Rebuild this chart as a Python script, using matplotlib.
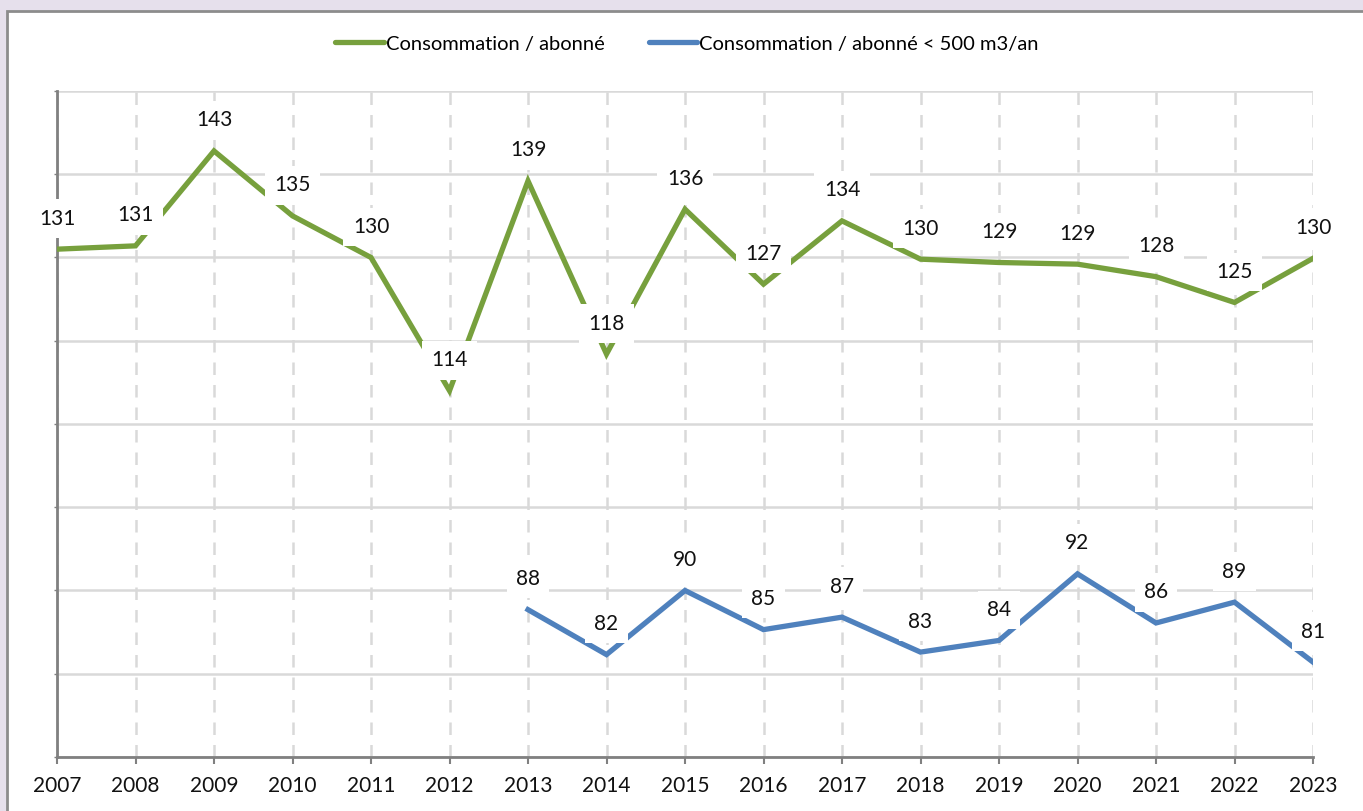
import matplotlib.pyplot as plt
from matplotlib.patches import Rectangle
from matplotlib.lines import Line2D

plt.rcParams['font.family'] = ['Lato', 'DejaVu Sans']

years = list(range(2007, 2024))
conso = [131.0, 131.4, 142.8, 135.0, 130.0, 114.0, 139.2, 118.4, 135.8, 126.8,
         134.4, 129.8, 129.4, 129.2, 127.7, 124.6, 129.9]
years_500 = list(range(2013, 2024))
conso_500 = [87.7, 82.3, 90.0, 85.3, 86.8, 82.6, 84.0, 92.0, 86.1, 88.6, 81.4]

green = '#77A03D'
blue = '#4F81BD'

fig = plt.figure(figsize=(13.63, 8.11), dpi=100)
fig.patch.set_facecolor('#E6E0EC')
fig.patches.append(Rectangle((7 / 1363, -0.05), 1.2, 1.05 - 11 / 811,
                             transform=fig.transFigure, facecolor='white',
                             edgecolor='#8C8C8C', linewidth=2, zorder=-5))

ax = fig.add_axes([57 / 1363, 54 / 811, 1256 / 1363, 666 / 811])
ax.set_facecolor('none')
ax.set_zorder(2)

ax.plot(years, conso, color=green, lw=3.8, solid_joinstyle='miter', zorder=3,
        label='Consommation / abonné')
ax.plot(years_500, conso_500, color=blue, lw=3.8, solid_joinstyle='miter', zorder=3,
        label='Consommation / abonné < 500 m3/an')

for xs, ys in [(years, conso), (years_500, conso_500)]:
    for x, y in zip(xs, ys):
        ax.annotate(f'{round(y):d}', (x, y), xytext=(0, 22), textcoords='offset points',
                    ha='center', va='center', fontsize=15, color='#111111',
                    bbox=dict(boxstyle='square,pad=0.45', fc='white', ec='none'),
                    zorder=4, annotation_clip=False)

ax.set_xlim(2007, 2023)
ax.set_ylim(70, 150)
ax.set_xticks(years)
ax.set_xticklabels([str(y) for y in years], fontsize=15, color='#111111')
ax.set_yticks(range(70, 151, 10))
ax.set_yticklabels([])
ax.tick_params(axis='x', length=5, width=1.5, color='#808080', pad=9)
ax.tick_params(axis='y', length=2, width=1, color='#808080')

ax.grid(axis='y', color='#D9D9D9', lw=1.8, zorder=1)
ax.grid(axis='x', color='#D9D9D9', lw=1.8, ls=(0, (5, 4)), zorder=1)
for s in ['top', 'right']:
    ax.spines[s].set_visible(False)
for s in ['left', 'bottom']:
    ax.spines[s].set_color('#808080')
    ax.spines[s].set_linewidth(2)
    ax.spines[s].set_zorder(2)

handles = [Line2D([], [], color=green, lw=3.8, solid_capstyle='round'),
           Line2D([], [], color=blue, lw=3.8, solid_capstyle='round')]
fig.legend(handles, ['Consommation / abonné', 'Consommation / abonné < 500 m3/an'],
           loc='center', bbox_to_anchor=(687 / 1363, 1 - 44 / 811), ncol=2,
           frameon=False, fontsize=14.5, handlelength=2.4, handletextpad=0.1,
           columnspacing=2.2)

fig.savefig('out.png', dpi=100, facecolor=fig.get_facecolor())
